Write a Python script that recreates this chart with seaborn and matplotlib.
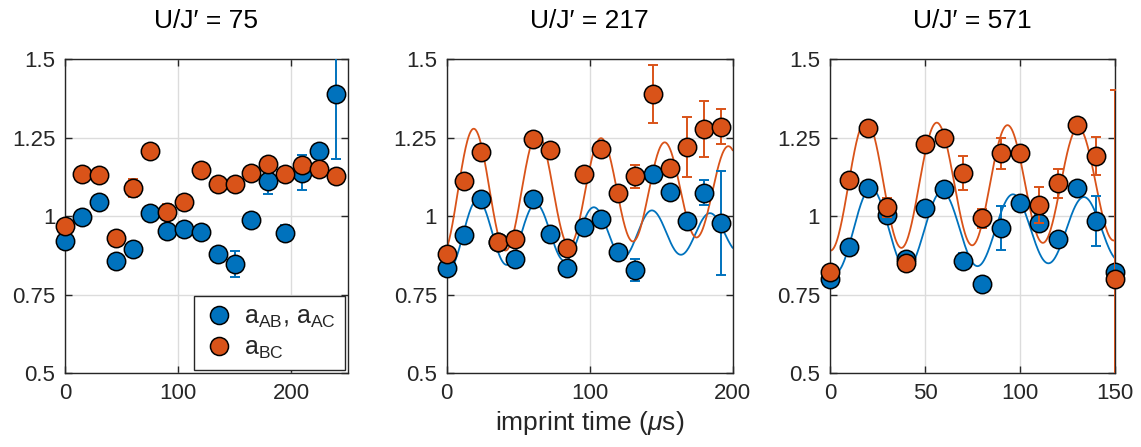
import numpy as np
import pandas as pd
import matplotlib
matplotlib.use("Agg")
import matplotlib.pyplot as plt
import seaborn as sns
from matplotlib.lines import Line2D

# ---- data ----
# panel 1, U/J' = 75
t1 = [0, 15, 30, 45, 60, 75, 90, 105, 120, 135, 150, 165, 180, 195, 210, 225, 240]
ab1 = [0.921, 0.998, 1.046, 0.857, 0.895, 1.009, 0.953, 0.959, 0.950, 0.879,
       0.847, 0.987, 1.110, 0.945, 1.138, 1.208, 1.388]
ab1_err = [0.012, 0.012, 0.012, 0.012, 0.02, 0.012, 0.012, 0.012, 0.012, 0.012,
           0.041, 0.012, 0.04, 0.025, 0.055, 0.022, 0.205]
bc1 = [0.969, 1.133, 1.131, 0.931, 1.090, 1.207, 1.012, 1.046, 1.147, 1.101,
       1.102, 1.136, 1.165, 1.134, 1.161, 1.150, 1.128]
bc1_err = [0.012, 0.012, 0.012, 0.012, 0.028, 0.012, 0.025, 0.012, 0.012, 0.012,
           0.012, 0.012, 0.012, 0.022, 0.022, 0.012, 0.012]

# panel 2, U/J' = 217
t2 = [0, 12, 24, 36, 48, 60, 72, 84, 96, 108, 120, 132, 144, 156, 168, 180, 192]
ab2 = [0.833, 0.938, 1.054, 0.916, 0.862, 1.055, 0.943, 0.833, 0.964, 0.990,
       0.884, 0.828, 1.133, 1.076, 0.985, 1.074, 0.977]
ab2_err = [0.012, 0.012, 0.012, 0.012, 0.012, 0.012, 0.012, 0.012, 0.012, 0.012,
           0.012, 0.036, 0.012, 0.012, 0.012, 0.04, 0.166]
bc2 = [0.878, 1.113, 1.205, 0.918, 0.928, 1.244, 1.211, 0.899, 1.134, 1.214,
       1.074, 1.126, 1.389, 1.152, 1.219, 1.277, 1.285]
bc2_err = [0.012, 0.012, 0.012, 0.012, 0.012, 0.012, 0.012, 0.012, 0.012, 0.012,
           0.012, 0.038, 0.092, 0.012, 0.096, 0.09, 0.055]

# panel 3, U/J' = 571
t3 = [0, 10, 20, 30, 40, 50, 60, 70, 80, 90, 100, 110, 120, 130, 140, 150]
ab3 = [0.798, 0.902, 1.090, 1.002, 0.862, 1.026, 1.085, 0.857, 0.782, 0.961,
       1.040, 0.979, 0.928, 1.088, 0.984, 0.822]
ab3_err = [0.012, 0.012, 0.012, 0.015, 0.015, 0.012, 0.012, 0.026, 0.012, 0.07,
           0.012, 0.026, 0.012, 0.012, 0.081, 0.012]
bc3 = [0.822, 1.115, 1.279, 1.028, 0.849, 1.230, 1.248, 1.138, 0.993, 1.200,
       1.200, 1.035, 1.104, 1.289, 1.191, 0.801]
bc3_err = [0.012, 0.012, 0.012, 0.03, 0.012, 0.012, 0.012, 0.054, 0.03, 0.05,
           0.022, 0.058, 0.047, 0.012, 0.061, 0.6]

# damped cosine fits shown in panels 2 and 3: offset, amplitude, decay time, period, peak time
fit2_ab = [0.945, 0.115, 315, 40.6, 21.8]
fit2_bc = [1.080, 0.205, 540, 44.5, 19.0]
fit3_ab = [0.957, 0.138, 463, 37.3, 21.7]
fit3_bc = [1.100, 0.210, 900, 37.2, 19.0]

titles = ["U/J\u2032 = 75", "U/J\u2032 = 217", "U/J\u2032 = 571"]
xmax = [250, 200, 150]
xticks = [[0, 100, 200], [0, 100, 200], [0, 50, 100, 150]]
yticks = [0.5, 0.75, 1, 1.25, 1.5]
ytick_labels = ["0.5", "0.75", "1", "1.25", "1.5"]

blue = "#0072BD"
orange = "#D95319"
dark = "#262626"

sns.set_style("white")
plt.rcParams["font.family"] = ["Liberation Sans", "DejaVu Sans"]
plt.rcParams["mathtext.fontset"] = "custom"
plt.rcParams["mathtext.rm"] = "Liberation Sans"
plt.rcParams["mathtext.it"] = "Liberation Sans:italic"

fig = plt.figure(figsize=(11.41, 4.47), dpi=100)
bottom, height = 0.1655, 0.7025
axes = [fig.add_axes([0.057, bottom, 0.2476, height]),
        fig.add_axes([0.3915, bottom, 0.2507, height]),
        fig.add_axes([0.7274, bottom, 0.250, height])]

panels = [(t1, ab1, ab1_err, bc1, bc1_err, None, None),
          (t2, ab2, ab2_err, bc2, bc2_err, fit2_ab, fit2_bc),
          (t3, ab3, ab3_err, bc3, bc3_err, fit3_ab, fit3_bc)]


def fit_curve(p, tmax):
    c, a, tau, per, t0 = p
    tt = np.linspace(0, tmax, 500)
    return pd.DataFrame({"t": tt, "y": c + a * np.exp(-tt / tau) * np.cos(2 * np.pi * (tt - t0) / per)})


for i, ax in enumerate(axes):
    t, ab, ab_e, bc, bc_e, fab, fbc = panels[i]
    df = pd.DataFrame({"t": t, "ab": ab, "ab_e": ab_e, "bc": bc, "bc_e": bc_e})

    if fab is not None:
        sns.lineplot(data=fit_curve(fab, xmax[i]), x="t", y="y", ax=ax, color=blue, lw=1.3, zorder=2)
        sns.lineplot(data=fit_curve(fbc, xmax[i]), x="t", y="y", ax=ax, color=orange, lw=1.3, zorder=2)

    ax.errorbar(df["t"], df["ab"], yerr=df["ab_e"], fmt="none", ecolor=blue,
                elinewidth=1.4, capsize=3.5, capthick=1.4, zorder=3)
    sns.scatterplot(data=df, x="t", y="ab", ax=ax, color=blue, s=175,
                    edgecolor="black", linewidth=1.1, zorder=4, clip_on=False)
    ax.errorbar(df["t"], df["bc"], yerr=df["bc_e"], fmt="none", ecolor=orange,
                elinewidth=1.4, capsize=3.5, capthick=1.4, zorder=5)
    sns.scatterplot(data=df, x="t", y="bc", ax=ax, color=orange, s=175,
                    edgecolor="black", linewidth=1.1, zorder=6, clip_on=False)

    ax.set_xlim(0, xmax[i])
    ax.set_ylim(0.5, 1.5)
    ax.set_xticks(xticks[i])
    ax.set_yticks(yticks)
    ax.set_yticklabels(ytick_labels)
    ax.set_xlabel("")
    ax.set_ylabel("")
    ax.grid(True, color="#dcdcdc", lw=1.0)
    ax.set_axisbelow(True)
    ax.tick_params(direction="in", length=5, width=1, colors=dark, labelsize=16,
                   top=True, right=True, left=True, bottom=True, pad=7)
    for s in ax.spines.values():
        s.set_color(dark)
        s.set_linewidth(1.0)
    ax.set_title(titles[i], fontsize=19, pad=22, color="black")

axes[1].set_xlabel(r"imprint time ($\mu$s)", fontsize=19, color=dark, labelpad=4)

handles = [Line2D([], [], ls="none", marker="o", ms=13, mfc=blue, mec="black", mew=1.1),
           Line2D([], [], ls="none", marker="o", ms=13, mfc=orange, mec="black", mew=1.1)]
labels = [r"a$_{\mathrm{AB}}$, a$_{\mathrm{AC}}$", r"a$_{\mathrm{BC}}$"]
leg = axes[0].legend(handles, labels, loc="lower right", fontsize=18, frameon=True,
                     fancybox=False, edgecolor=dark, framealpha=1, borderpad=0.35,
                     handletextpad=0.35, labelspacing=0.25, borderaxespad=0.12,
                     handlelength=1.3)
leg.get_frame().set_linewidth(1.0)

fig.savefig("out.png", dpi=100)
